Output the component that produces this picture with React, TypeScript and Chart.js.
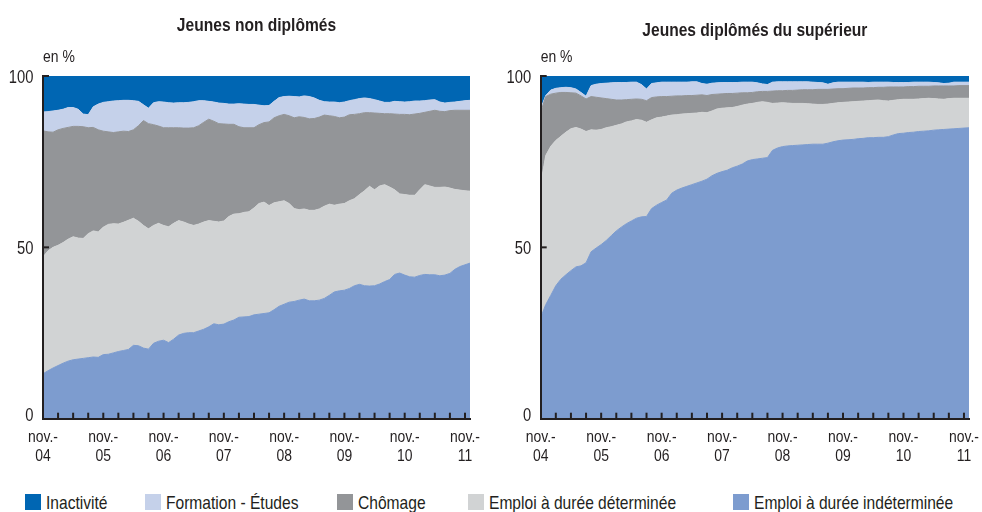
import React, { useEffect, useRef } from "react";
import { Chart, registerables } from "chart.js";

Chart.register(...registerables);

const FONT = "'Liberation Sans', Arial, sans-serif";
const SX = 0.82; // horizontal compression to imitate a condensed face
const INK = "#231f20";

// Monthly observations, November 2004 (index 0) to December 2011 (index 85).
const yearLabels = ["04", "05", "06", "07", "08", "09", "10", "11"];
const tickMonthPrefix = "nov.-";
const yUnit = "en %";

const seriesNames = [
  "Inactivité",
  "Formation - Études",
  "Chômage",
  "Emploi à durée déterminée",
  "Emploi à durée indéterminée",
];
const seriesColors = ["#0066b3", "#c5d1ea", "#939598", "#d1d3d4", "#7d9ccf"];

// Jeunes non diplômés — cumulative upper boundary of each band (en %)
const ndCdiTop = [
  13.1, 14.0, 14.8, 15.5, 16.2, 16.8, 17.2, 17.4, 17.6, 17.8, 18.0, 17.9, 18.7, 18.8, 19.2, 19.6, 19.9, 20.2, 21.4, 21.3,
  20.6, 20.3, 22.0, 22.6, 22.9, 22.2, 23.2, 24.4, 24.9, 25.1, 25.1, 25.6, 26.1, 26.8, 27.7, 27.4, 27.6, 28.3, 28.8, 29.6,
  29.7, 29.8, 30.3, 30.5, 30.7, 30.9, 31.8, 32.8, 33.4, 34.0, 34.2, 34.6, 34.9, 34.4, 34.4, 34.6, 35.1, 36.0, 37.0, 37.3,
  37.5, 38.0, 38.8, 39.2, 38.8, 38.7, 38.8, 39.3, 40.0, 40.6, 42.1, 42.5, 41.9, 41.4, 41.3, 41.8, 42.1, 42.0, 42.0, 41.7,
  41.9, 42.4, 43.6, 44.4, 44.9, 45.4,
];
const ndCddTop = [
  47.2, 49.0, 50.0, 50.6, 51.4, 52.4, 53.1, 52.7, 52.6, 54.0, 54.8, 54.5, 55.9, 56.7, 56.9, 56.8, 57.3, 57.9, 58.5, 57.6,
  56.4, 55.4, 56.4, 57.0, 56.4, 56.0, 57.0, 57.8, 57.4, 56.8, 56.4, 56.8, 57.4, 57.8, 57.6, 57.4, 57.7, 59.0, 59.7, 59.8,
  60.2, 60.4, 61.5, 62.8, 63.2, 62.2, 63.0, 63.3, 63.6, 62.8, 61.3, 61.0, 61.2, 60.8, 60.8, 61.2, 62.0, 62.6, 62.3, 62.6,
  62.8, 63.6, 64.2, 65.4, 66.5, 67.8, 66.8, 67.9, 68.3, 67.6, 66.8, 65.6, 65.4, 65.2, 65.2, 66.8, 68.3, 67.9, 67.5, 67.5,
  67.6, 67.3, 66.9, 66.7, 66.5, 66.4,
];
const ndChomTop = [
  84.0, 83.7, 83.6, 84.3, 84.7, 85.0, 85.3, 85.3, 85.2, 84.9, 85.0, 84.3, 83.9, 83.7, 83.5, 83.7, 83.9, 83.8, 84.3, 85.5,
  87.0, 86.1, 85.8, 85.4, 84.9, 84.9, 84.9, 84.9, 84.8, 84.8, 84.9, 85.5, 86.5, 87.4, 86.8, 86.1, 86.0, 85.9, 85.9, 85.2,
  84.9, 84.9, 84.9, 85.8, 86.4, 86.6, 87.8, 88.4, 88.8, 88.4, 87.8, 88.1, 87.9, 87.5, 87.6, 88.0, 88.6, 88.4, 88.2, 87.8,
  88.0, 88.7, 88.8, 89.0, 89.3, 89.3, 89.2, 89.1, 89.0, 89.0, 88.9, 88.8, 88.8, 88.7, 88.9, 89.1, 89.4, 89.7, 90.0, 89.7,
  89.6, 89.9, 90.0, 90.0, 90.0, 90.0,
];
const ndFormTop = [
  89.5, 89.6, 89.8, 90.0, 90.3, 90.8, 90.8, 90.3, 88.9, 88.7, 91.0, 91.8, 92.3, 92.5, 92.7, 92.8, 92.9, 92.9, 92.8, 92.6,
  91.6, 90.6, 92.2, 92.5, 92.4, 92.2, 92.1, 92.2, 92.2, 92.3, 92.5, 92.8, 92.8, 92.6, 92.4, 92.1, 92.0, 91.8, 91.8, 91.9,
  91.8, 91.7, 91.7, 91.5, 91.3, 91.4, 92.6, 93.7, 94.0, 94.1, 94.0, 93.9, 94.2, 94.0, 93.6, 92.9, 92.5, 92.4, 92.4, 92.2,
  92.4, 92.8, 93.1, 93.4, 93.6, 93.4, 93.1, 92.7, 92.3, 92.3, 92.6, 92.5, 92.4, 92.5, 92.7, 92.7, 92.8, 93.0, 93.1, 92.4,
  92.1, 92.3, 92.4, 92.6, 92.8, 92.9,
];

// Jeunes diplômés du supérieur — cumulative upper boundary of each band (en %)
const supCdiTop = [
  29.5, 33.3, 36.0, 38.8, 40.7, 42.0, 43.2, 44.3, 44.6, 45.5, 48.7, 49.8, 50.8, 52.0, 53.4, 54.8, 55.9, 56.9, 57.7, 58.5,
  58.9, 59.0, 61.3, 62.3, 63.1, 63.8, 65.8, 66.7, 67.3, 67.8, 68.3, 68.8, 69.3, 69.9, 70.9, 71.6, 72.1, 72.5, 73.2, 73.7,
  74.3, 75.2, 75.6, 75.8, 76.0, 76.2, 78.3, 79.0, 79.4, 79.6, 79.7, 79.8, 79.9, 80.0, 80.1, 80.1, 80.1, 80.4, 80.8, 81.1,
  81.3, 81.4, 81.5, 81.7, 81.8, 82.0, 82.0, 82.1, 82.1, 82.3, 82.8, 83.2, 83.3, 83.5, 83.6, 83.8, 83.9, 84.0, 84.2, 84.3,
  84.4, 84.5, 84.6, 84.7, 84.8, 84.9,
];
const supCddTop = [
  68.5, 76.8, 79.5, 81.2, 82.4, 83.6, 84.6, 85.0, 84.5, 83.8, 84.3, 84.2, 84.4, 84.9, 85.2, 85.6, 86.0, 86.6, 86.9, 87.3,
  87.1, 86.5, 87.2, 87.8, 88.0, 88.3, 88.6, 88.7, 88.9, 89.0, 89.1, 89.2, 89.4, 89.3, 89.8, 90.4, 90.6, 90.7, 90.8, 91.1,
  91.5, 91.8, 92.0, 92.3, 92.5, 92.3, 92.0, 92.1, 92.2, 92.1, 92.0, 92.0, 92.0, 91.9, 91.8, 91.7, 91.7, 91.8, 92.0, 92.2,
  92.3, 92.4, 92.5, 92.6, 92.7, 92.8, 92.9, 93.0, 92.8, 92.7, 92.9, 93.1, 93.2, 93.2, 93.2, 93.3, 93.4, 93.5, 93.4, 93.3,
  93.2, 93.4, 93.5, 93.5, 93.5, 93.5,
];
const supChomTop = [
  89.5, 94.0, 94.7, 95.0, 95.2, 95.2, 95.1, 95.0, 94.2, 93.3, 94.0, 93.8, 93.6, 93.4, 93.2, 93.0, 93.0, 93.1, 93.2, 93.3,
  93.2, 92.8, 93.7, 93.9, 94.0, 94.0, 94.1, 94.2, 94.2, 94.3, 94.3, 94.4, 94.5, 94.3, 94.6, 94.7, 94.8, 94.9, 94.9, 95.0,
  95.1, 95.1, 95.2, 95.4, 95.5, 95.5, 95.6, 95.7, 95.7, 95.8, 95.8, 95.9, 96.0, 96.0, 96.0, 96.1, 96.1, 96.1, 96.2, 96.3,
  96.3, 96.4, 96.5, 96.5, 96.5, 96.6, 96.6, 96.7, 96.7, 96.8, 96.8, 96.8, 96.8, 96.9, 96.9, 97.0, 97.0, 97.0, 97.1, 97.1,
  97.1, 97.1, 97.1, 97.2, 97.2, 97.2,
];
const supFormTop = [
  90.5, 94.3, 95.9, 96.4, 96.6, 96.7, 96.6, 96.2, 95.2, 94.1, 97.2, 97.6, 97.8, 97.9, 98.0, 98.1, 98.1, 98.1, 98.2, 98.2,
  97.5, 96.2, 97.8, 98.0, 98.2, 98.2, 98.2, 98.2, 98.2, 98.2, 98.3, 98.3, 97.8, 97.6, 97.9, 98.0, 98.1, 98.1, 98.1, 98.1,
  98.2, 98.2, 98.2, 98.0, 97.7, 97.5, 98.2, 98.3, 98.3, 98.3, 98.3, 98.3, 98.3, 98.3, 98.2, 98.1, 98.0, 97.6, 98.0, 98.2,
  98.2, 98.2, 98.2, 98.2, 98.2, 98.1, 98.2, 98.2, 98.2, 98.2, 98.1, 98.1, 98.1, 98.1, 98.2, 98.2, 98.2, 98.2, 98.1, 98.0,
  97.8, 97.9, 98.2, 98.2, 98.2, 98.2,
];

const PANEL_W = 491;
const PANEL_H = 470;
const PLOT_TOP = 76;
const PLOT_BOTTOM = 418.7;

function drawText(
  ctx: CanvasRenderingContext2D,
  text: string,
  x: number,
  y: number,
  size: number,
  align: CanvasTextAlign,
  weight = "normal"
) {
  ctx.save();
  ctx.font = `${weight} ${size}px ${FONT}`;
  ctx.fillStyle = INK;
  ctx.textBaseline = "alphabetic";
  ctx.textAlign = align;
  ctx.translate(x, y);
  ctx.scale(SX, 1);
  ctx.fillText(text, 0, 0);
  ctx.restore();
}

const decorPlugin = {
  id: "decor",
  afterDatasetsDraw(chart: any) {
    const { ctx, chartArea, scales } = chart;
    const xs = scales.x;
    const ys = scales.y;
    ctx.save();
    ctx.strokeStyle = INK;
    ctx.lineWidth = 2;
    xs.ticks.forEach((t: any) => {
      const px = xs.getPixelForValue(t.value);
      if (px <= chartArea.left + 1) return;
      ctx.beginPath();
      ctx.moveTo(px, chartArea.bottom);
      ctx.lineTo(px, chartArea.bottom - 6);
      ctx.stroke();
    });
    ys.ticks.forEach((t: any) => {
      if (t.value === 0) return;
      const py = ys.getPixelForValue(t.value);
      ctx.beginPath();
      ctx.moveTo(chartArea.left, py);
      ctx.lineTo(chartArea.left + 6, py);
      ctx.stroke();
    });
    ctx.restore();
  },
  afterDraw(chart: any, _args: any, opts: any) {
    const { ctx, chartArea, scales } = chart;
    const xs = scales.x;
    const ys = scales.y;
    // panel title
    drawText(ctx, opts.title, (chartArea.left + chartArea.right) / 2, opts.titleBaseline, 19, "center", "bold");
    // unit
    drawText(ctx, yUnit, chartArea.left, chartArea.top - 14.3, 17, "left");
    // y tick labels
    ys.ticks.forEach((t: any) => {
      const py = ys.getPixelForValue(t.value);
      const base = t.value === 0 ? py + 2 : py + 7;
      drawText(ctx, String(t.value), chartArea.left - 9.5, base, 18, "right");
    });
    // x tick labels
    xs.ticks.forEach((t: any) => {
      const v = Number(t.value);
      if (v % 12 !== 0) return;
      const px = xs.getPixelForValue(v);
      drawText(ctx, tickMonthPrefix, px, chartArea.bottom + 23, 17, "center");
      drawText(ctx, yearLabels[v / 12], px, chartArea.bottom + 42, 17, "center");
    });
  },
};

type PanelProps = {
  title: string;
  cdiTop: number[];
  cddTop: number[];
  chomTop: number[];
  formTop: number[];
  left: number;
  titleBaseline: number;
  yAxisWidth: number;
  rightPad: number;
};

function Panel(props: PanelProps) {
  const ref = useRef<HTMLCanvasElement | null>(null);
  useEffect(() => {
    const { title, cdiTop, cddTop, chomTop, formTop, titleBaseline, yAxisWidth, rightPad } = props;
    const pts = (arr: number[]) => arr.map((v, i) => ({ x: i, y: v }));
    const band = (idx: number, data: number[], fill: any, bw = 1) => ({
      label: seriesNames[idx],
      data: pts(data),
      borderColor: seriesColors[idx],
      backgroundColor: seriesColors[idx],
      borderWidth: bw,
      pointRadius: 0,
      tension: 0,
      fill,
    });
    const last = cdiTop.length - 1;
    const chart = new Chart(ref.current as HTMLCanvasElement, {
      type: "line",
      data: {
        datasets: [
          band(4, cdiTop, "origin"),
          band(3, cddTop, "-1"),
          band(2, chomTop, "-1"),
          band(1, formTop, "-1"),
          band(0, formTop, "end", 0),
        ],
      },
      options: {
        animation: false,
        responsive: false,
        events: [],
        layout: { padding: { left: 0, right: rightPad, top: PLOT_TOP, bottom: 0 } },
        plugins: {
          legend: { display: false },
          tooltip: { enabled: false },
          title: { display: false },
          decor: { title, titleBaseline },
        },
        scales: {
          x: {
            type: "linear",
            min: 0,
            max: last,
            grid: { display: false, drawTicks: false },
            border: { display: true, color: INK, width: 2, z: 1 },
            ticks: { display: false, stepSize: 3, autoSkip: false, includeBounds: false },
            afterFit: (s: any) => {
              s.height = PANEL_H - PLOT_BOTTOM;
            },
          },
          y: {
            min: 0,
            max: 100,
            grid: { display: false, drawTicks: false },
            border: { display: true, color: INK, width: 2, z: 1 },
            ticks: { display: false, stepSize: 50 },
            afterFit: (s: any) => {
              s.width = yAxisWidth;
            },
          },
        },
      },
      plugins: [decorPlugin],
    } as any);
    return () => chart.destroy();
  }, []);
  return (
    <canvas
      ref={ref}
      width={PANEL_W}
      height={PANEL_H}
      style={{ position: "absolute", left: props.left, top: 0, width: PANEL_W, height: PANEL_H }}
    />
  );
}

const legendLeft = [25, 145, 337.3, 468.3, 733];

function Legend() {
  return (
    <>
      {seriesNames.map((name, i) => (
        <React.Fragment key={name}>
          <div
            style={{
              position: "absolute",
              left: legendLeft[i],
              top: 494,
              width: 16,
              height: 16,
              background: seriesColors[i],
            }}
          />
          <div
            style={{
              position: "absolute",
              left: legendLeft[i] + 21,
              top: 492.5,
              fontFamily: FONT,
              fontSize: 19,
              lineHeight: "19px",
              color: INK,
              whiteSpace: "nowrap",
              transform: `scaleX(${SX})`,
              transformOrigin: "0 0",
            }}
          >
            {name}
          </div>
        </React.Fragment>
      ))}
    </>
  );
}

export default function App() {
  return (
    <div
      style={{
        position: "absolute",
        left: 0,
        top: 0,
        width: 982,
        height: 512,
        background: "#ffffff",
        overflow: "hidden",
      }}
    >
      <Panel
        title="Jeunes non diplômés"
        cdiTop={ndCdiTop}
        cddTop={ndCddTop}
        chomTop={ndChomTop}
        formTop={ndFormTop}
        left={0}
        titleBaseline={31.3}
        yAxisWidth={43}
        rightPad={21}
      />
      <Panel
        title="Jeunes diplômés du supérieur"
        cdiTop={supCdiTop}
        cddTop={supCddTop}
        chomTop={supChomTop}
        formTop={supFormTop}
        left={491}
        titleBaseline={36.3}
        yAxisWidth={49.7}
        rightPad={13}
      />
      <Legend />
    </div>
  );
}
